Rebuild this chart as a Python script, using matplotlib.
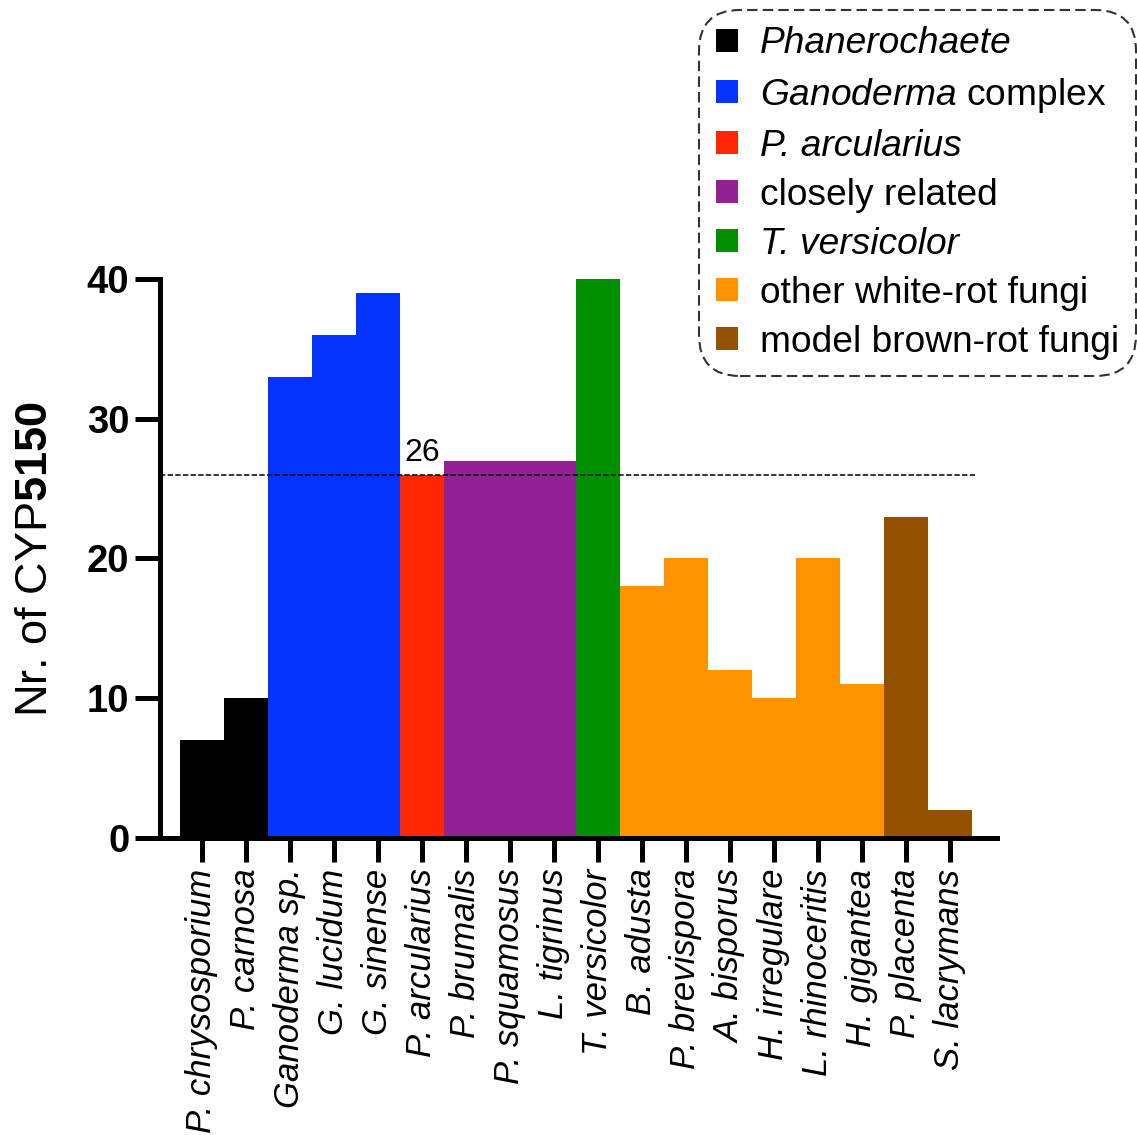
import matplotlib
matplotlib.use('Agg')
import matplotlib.pyplot as plt
from matplotlib.patches import Patch

# data
species = ['P. chrysosporium', 'P. carnosa', 'Ganoderma sp.', 'G. lucidum', 'G. sinense',
           'P. arcularius', 'P. brumalis', 'P. squamosus', 'L. tigrinus', 'T. versicolor',
           'B. adusta', 'P. brevispora', 'A. bisporus', 'H. irregulare', 'L. rhinoceritis',
           'H. gigantea', 'P. placenta', 'S. lacrymans']
n_cyp5150 = [7, 10, 33, 36, 39, 26, 27, 27, 27, 40, 18, 20, 12, 10, 20, 11, 23, 2]
group = [0, 0, 1, 1, 1, 2, 3, 3, 3, 4, 5, 5, 5, 5, 5, 5, 6, 6]
group_labels = ['Phanerochaete', r'$\mathit{Ganoderma}$ complex', 'P. arcularius',
                'closely related', 'T. versicolor', 'other white-rot fungi',
                'model brown-rot fungi']
group_italic = [True, False, True, False, True, False, False]
group_colors = ['#000000', '#0433FF', '#FF2600', '#942193', '#008F00', '#FF9300', '#945200']
reference = 26

plt.rcParams['font.family'] = ['Liberation Sans', 'DejaVu Sans']
plt.rcParams['mathtext.fontset'] = 'custom'
plt.rcParams['mathtext.rm'] = 'Liberation Sans'
plt.rcParams['mathtext.it'] = 'Liberation Sans:italic'
plt.rcParams['mathtext.bf'] = 'Liberation Sans:bold'

fig = plt.figure(figsize=(11.37, 11.35), dpi=100)
ax = fig.add_axes([0.1407, 0.2617, 0.7362, 0.4925])

x = list(range(len(species)))
ax.bar(x, n_cyp5150, width=1.0, color=[group_colors[g] for g in group], linewidth=0, zorder=2)

ax.set_xlim(-0.95, len(species) - 0.5 + 0.57)
ax.set_ylim(0, 40)

# reference line at P. arcularius
ax.hlines(reference, ax.get_xlim()[0], len(species) - 0.43, colors='black',
          linestyles=(0, (3.5, 1.5)), linewidth=1.1, zorder=3)
ax.text(species.index('P. arcularius'), reference + 0.5, str(reference),
        ha='center', va='bottom', fontsize=23)

for s in ['top', 'right']:
    ax.spines[s].set_visible(False)
for s in ['left', 'bottom']:
    ax.spines[s].set_linewidth(3.6)
    ax.spines[s].set_zorder(4)

ax.set_yticks([0, 10, 20, 30, 40])
ax.tick_params(axis='y', length=18, width=3.6, labelsize=27.5, pad=4)
for lab in ax.get_yticklabels():
    lab.set_fontweight('bold')
ax.set_xticks(x)
ax.set_xticklabels(species, rotation=90, style='italic', fontsize=25)
ax.tick_params(axis='x', length=17, width=3.6, pad=5)

ax.set_ylabel(r'Nr. of CYP$\mathbf{5150}$', fontsize=32.5, labelpad=22)

handles = [Patch(facecolor=c, edgecolor='none') for c in group_colors]
leg = fig.legend(handles, group_labels, loc='upper left',
                 bbox_to_anchor=(0.613, 0.993), fontsize=26.7,
                 handlelength=0.6, handleheight=0.6, handletextpad=0.6,
                 labelspacing=0.378, borderpad=0.0, frameon=True, fancybox=True)
for txt, it in zip(leg.get_texts(), group_italic):
    if it:
        txt.set_fontstyle('italic')
frame = leg.get_frame()
frame.set_edgecolor('black')
frame.set_linestyle((0, (5, 2.5)))
frame.set_linewidth(1.5)
frame.set_boxstyle('round', pad=0.45, rounding_size=1.1)

fig.savefig('out.png', dpi=100)
